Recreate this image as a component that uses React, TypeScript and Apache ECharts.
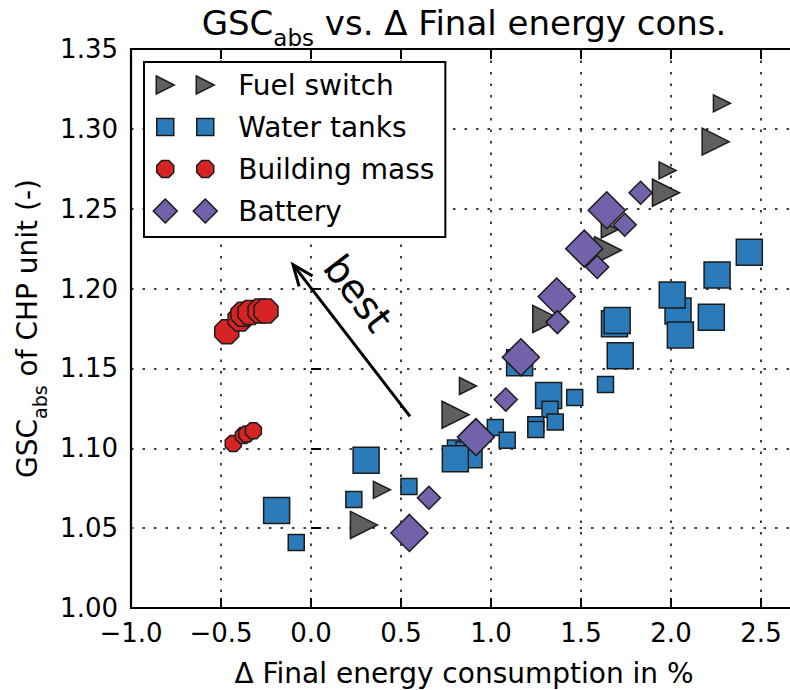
import React, { useEffect, useRef } from "react";
import * as echarts from "echarts";

const FONT = "'DejaVu Sans', 'Liberation Sans', sans-serif";

// Axis ranges and ticks
const X_MIN = -1.0;
const X_MAX = 2.7;
const X_STEP = 0.5;
const Y_MIN = 1.0;
const Y_MAX = 1.35;
const Y_STEP = 0.05;

const seriesNames = ["Fuel switch", "Water tanks", "Building mass", "Battery"];

// [Δ final energy consumption in %, GSC_abs]
const fuelSwitchLarge: [number, number][] = [
  [0.294, 1.052], [0.803, 1.121], [1.307, 1.181], [1.65, 1.224], [1.972, 1.26], [2.248, 1.292],
];
const fuelSwitchSmall: [number, number][] = [
  [0.394, 1.074], [0.872, 1.139], [1.66, 1.237], [1.981, 1.274], [2.283, 1.316],
];
const waterTanksLarge: [number, number][] = [
  [-0.191, 1.061], [0.306, 1.0925], [0.83, 1.097], [0.878, 1.096], [0.802, 1.0935],
  [1.159, 1.1535], [1.32, 1.133], [1.686, 1.178], [1.701, 1.18], [1.718, 1.158],
  [2.039, 1.186], [2.052, 1.171], [2.007, 1.196], [2.224, 1.182], [2.256, 1.2085], [2.435, 1.2227],
];
const waterTanksSmall: [number, number][] = [
  [-0.082, 1.041], [0.238, 1.068], [0.544, 1.076], [1.024, 1.113], [1.09, 1.105],
  [1.328, 1.1244], [1.249, 1.1148], [1.249, 1.1118], [1.357, 1.1164], [1.465, 1.1318], [1.636, 1.14],
];
const buildingMassLarge: [number, number][] = [
  [-0.468, 1.173], [-0.394, 1.181], [-0.378, 1.184], [-0.339, 1.185], [-0.283, 1.186], [-0.25, 1.186],
];
const buildingMassSmall: [number, number][] = [
  [-0.432, 1.103], [-0.376, 1.108], [-0.357, 1.109], [-0.32, 1.111],
];
const batteryLarge: [number, number][] = [
  [0.547, 1.047], [0.916, 1.107], [1.166, 1.157], [1.365, 1.195], [1.518, 1.225], [1.643, 1.249],
];
const batterySmall: [number, number][] = [
  [0.655, 1.069], [1.082, 1.1305], [1.369, 1.179], [1.59, 1.2135], [1.743, 1.24], [1.831, 1.26],
];

// "best" annotation: arrow tail, arrow tip and label centre in data units
const bestArrowTail: [number, number] = [0.55, 1.12];
const bestArrowTip: [number, number] = [-0.1, 1.215];
const bestLabelAt: [number, number] = [0.261, 1.197];

const COLORS = {
  fuel: "#5f5f5f",
  water: "#2b7bba",
  building: "#d62424",
  battery: "#7461ab",
};
const EDGE = "#1c1c1c";

const TRIANGLE = "path://M0,0L10,5L0,10Z";
const OCTAGON =
  "path://M29.3,0L70.7,0L100,29.3L100,70.7L70.7,100L29.3,100L0,70.7L0,29.3Z";

// Legend icons: two markers inside an 80x24 frame
const FRAME = "M0,0M80,24";
const LEG_TRIANGLE = `path://${FRAME}M3,3L21,12L3,21ZM43,3L61,12L43,21Z`;
const LEG_SQUARE = `path://${FRAME}M3.5,3.5L20.5,3.5L20.5,20.5L3.5,20.5ZM43.5,3.5L60.5,3.5L60.5,20.5L43.5,20.5Z`;
const octa = (cx: number) =>
  `M${cx - 3.5},3.5L${cx + 3.5},3.5L${cx + 8.5},8.5L${cx + 8.5},15.5L${cx + 3.5},20.5L${cx - 3.5},20.5L${cx - 8.5},15.5L${cx - 8.5},8.5Z`;
const LEG_OCTAGON = `path://${FRAME}${octa(12)}${octa(52)}`;
const LEG_DIAMOND = `path://${FRAME}M12,0L24,12L12,24L0,12ZM52,0L64,12L52,24L40,12Z`;

const fmtX = (v: number) => (v < 0 ? "\u2212" : "") + Math.abs(v).toFixed(1);

function scatter(
  name: string,
  data: [number, number][],
  symbol: string,
  size: number,
  color: string
) {
  return {
    type: "scatter",
    name,
    data,
    symbol,
    symbolSize: size,
    silent: true,
    itemStyle: { color, borderColor: EDGE, borderWidth: 1.5, opacity: 1 },
    emphasis: { disabled: true },
  };
}

export default function App() {
  const ref = useRef<HTMLDivElement>(null);

  useEffect(() => {
    if (!ref.current) return;
    const chart = echarts.init(ref.current, null, { renderer: "svg" });

    const gridLine = { color: "#000", width: 1.5, type: [2.5, 9] as number[] };
    const tick = { show: true, inside: true, length: 10, lineStyle: { color: "#000", width: 2 } };

    chart.setOption({
      animation: false,
      backgroundColor: "#fff",
      title: {
        text: "{m|GSC}{s|abs}{m| vs. \u0394 Final energy cons.}",
        left: 464,
        top: -4,
        padding: 0,
        textAlign: "center",
        textStyle: {
          fontFamily: FONT,
          fontSize: 34,
          fontWeight: "normal",
          color: "#000",
          rich: {
            m: { fontFamily: FONT, fontSize: 34, lineHeight: 53, color: "#000" },
            s: { fontFamily: FONT, fontSize: 23, lineHeight: 23, verticalAlign: "bottom", color: "#000" },
          },
        },
      },
      legend: {
        orient: "vertical",
        left: 144,
        top: 62,
        padding: [9, 11, 12, 8.5],
        itemGap: 14,
        itemWidth: 80,
        itemHeight: 24,
        selectedMode: false,
        backgroundColor: "#fff",
        borderColor: "#000",
        borderWidth: 2,
        borderRadius: 0,
        itemStyle: { borderColor: EDGE, borderWidth: 1.5 },
        textStyle: { fontFamily: FONT, fontSize: 28, lineHeight: 28, color: "#000" },
        data: [
          { name: seriesNames[0], icon: LEG_TRIANGLE },
          { name: seriesNames[1], icon: LEG_SQUARE },
          { name: seriesNames[2], icon: LEG_OCTAGON },
          { name: seriesNames[3], icon: LEG_DIAMOND },
        ],
      },
      grid: {
        left: 131,
        right: 13,
        top: 49,
        bottom: 82,
        outerBoundsMode: "none",
        show: true,
        borderColor: "#000",
        borderWidth: 2.2,
        backgroundColor: "transparent",
      },
      xAxis: [
        {
          type: "value",
          min: X_MIN,
          max: X_MAX,
          interval: X_STEP,
          name: "\u0394 Final energy consumption in %",
          nameLocation: "middle",
          nameGap: 51,
          nameTextStyle: { fontFamily: FONT, fontSize: 28, lineHeight: 28, color: "#000" },
          axisLine: { show: false },
          axisTick: tick,
          axisLabel: {
            fontFamily: FONT,
            fontSize: 26,
            color: "#000",
            margin: 12,
            showMaxLabel: false,
            formatter: fmtX,
          },
          splitLine: { show: true, lineStyle: gridLine },
        },
        {
          type: "value",
          position: "top",
          min: X_MIN,
          max: X_MAX,
          interval: X_STEP,
          axisLine: { show: false },
          axisTick: tick,
          axisLabel: { show: false },
          splitLine: { show: false },
        },
      ],
      yAxis: {
        type: "value",
        min: Y_MIN,
        max: Y_MAX,
        interval: Y_STEP,
        name: "{m|GSC}{s|abs}{m| of CHP unit (-)}",
        nameLocation: "middle",
        nameRotate: 90,
        nameGap: 81,
        nameTextStyle: {
          fontFamily: FONT,
          fontSize: 28,
          color: "#000",
          rich: {
            m: { fontFamily: FONT, fontSize: 28, lineHeight: 44, color: "#000" },
            s: { fontFamily: FONT, fontSize: 19, lineHeight: 19, verticalAlign: "bottom", color: "#000" },
          },
        },
        axisLine: { show: false },
        axisTick: tick,
        axisLabel: {
          fontFamily: FONT,
          fontSize: 26,
          color: "#000",
          margin: 13,
          formatter: (v: number) => v.toFixed(2),
        },
        splitLine: { show: true, lineStyle: gridLine },
      },
      series: [
        scatter(seriesNames[0], fuelSwitchLarge, TRIANGLE, 27, COLORS.fuel),
        scatter(seriesNames[0], fuelSwitchSmall, TRIANGLE, 17, COLORS.fuel),
        scatter(seriesNames[1], waterTanksLarge, "rect", 26, COLORS.water),
        scatter(seriesNames[1], waterTanksSmall, "rect", 16, COLORS.water),
        scatter(seriesNames[2], buildingMassLarge, OCTAGON, 24, COLORS.building),
        scatter(seriesNames[2], buildingMassSmall, OCTAGON, 16, COLORS.building),
        scatter(seriesNames[3], batteryLarge, "diamond", 37, COLORS.battery),
        scatter(seriesNames[3], batterySmall, "diamond", 23, COLORS.battery),
      ],
    });

    // "best" arrow and its label, placed through the grid's coordinate system
    const tail = chart.convertToPixel({ gridIndex: 0 }, bestArrowTail) as number[];
    const tip = chart.convertToPixel({ gridIndex: 0 }, bestArrowTip) as number[];
    const lab = chart.convertToPixel({ gridIndex: 0 }, bestLabelAt) as number[];
    const dx = tail[0] - tip[0];
    const dy = tail[1] - tip[1];
    const len = Math.hypot(dx, dy);
    const ux = dx / len;
    const uy = dy / len;
    const nx = -uy;
    const ny = ux;
    const headLen = 21;
    const headHalf = 8.5;
    const angle = Math.atan2(dy, dx);

    chart.setOption({
      graphic: [
        {
          type: "line",
          silent: true,
          z: 10,
          shape: { x1: tail[0], y1: tail[1], x2: tip[0], y2: tip[1] },
          style: { stroke: "#000", lineWidth: 3 },
        },
        {
          type: "polyline",
          silent: true,
          z: 10,
          shape: {
            points: [
              [tip[0] + headLen * ux + headHalf * nx, tip[1] + headLen * uy + headHalf * ny],
              [tip[0], tip[1]],
              [tip[0] + headLen * ux - headHalf * nx, tip[1] + headLen * uy - headHalf * ny],
            ],
          },
          style: { stroke: "#000", lineWidth: 3, fill: "none" },
        },
        {
          type: "text",
          silent: true,
          z: 10,
          x: lab[0],
          y: lab[1],
          rotation: -angle,
          style: {
            text: "best",
            fontFamily: FONT,
            fontSize: 39,
            fill: "#000",
            align: "center",
            verticalAlign: "middle",
          },
        },
      ],
    });

    return () => chart.dispose();
  }, []);

  return (
    <div
      ref={ref}
      style={{ position: "fixed", left: 0, top: 0, width: 810, height: 690, background: "#fff" }}
    />
  );
}
